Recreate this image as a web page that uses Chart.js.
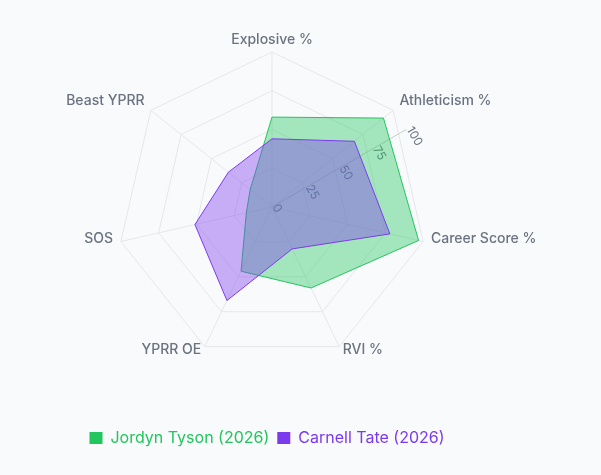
<!DOCTYPE html>
<html>
<head>
<meta charset="utf-8">
<script src="https://cdn.jsdelivr.net/npm/chart.js@4.4.1/dist/chart.umd.min.js"></script>
<style>
  html, body { margin: 0; padding: 0; background: #f9fafb; }
  #wrap { position: absolute; left: 0; top: 0; width: 601px; height: 475px; }
</style>
</head>
<body>
<div id="wrap"><canvas id="radar"></canvas></div>
<script>
var labels = ['Explosive %', 'Athleticism %', 'Career Score %', 'RVI %', 'YPRR OE', 'SOS', 'Beast YPRR'];
var tysonValues = [58, 92, 97, 58, 46, 17, 18];
var tateValues = [44, 68, 78, 30, 67, 51, 36];
var tickValues = [0, 25, 50, 75, 100];

var green = '#22c55e';
var purple = '#7c3aed';

Chart.defaults.font.family = 'Inter';

// radius axis drawn at 30 deg above horizontal, under the areas
var radiusAxis = {
    id: 'radiusAxis',
    beforeDatasetsDraw: function(chart) {
        var r = chart.scales.r;
        var ctx = chart.ctx;
        var tilt = Math.PI / 3;
        var end = r.getPointPosition(0, r.getDistanceFromCenterForValue(100), tilt);
        ctx.save();
        ctx.strokeStyle = '#cccccc';
        ctx.lineWidth = 1;
        ctx.beginPath();
        ctx.moveTo(r.xCenter, r.yCenter);
        ctx.lineTo(end.x, end.y);
        ctx.stroke();
        ctx.font = '12px Inter';
        ctx.fillStyle = '#6b7280';
        ctx.textAlign = 'left';
        ctx.textBaseline = 'alphabetic';
        tickValues.forEach(function(v) {
            var p = r.getPointPosition(0, r.getDistanceFromCenterForValue(v), tilt);
            ctx.save();
            ctx.translate(p.x, p.y);
            ctx.rotate(tilt);
            ctx.fillText(String(v), 0, 0);
            ctx.restore();
        });
        ctx.restore();
    },
    afterDatasetsDraw: function(chart) {
        var r = chart.scales.r;
        var ctx = chart.ctx;
        ctx.save();
        ctx.font = '500 14px Inter';
        ctx.fillStyle = '#6b7280';
        ctx.textBaseline = 'alphabetic';
        chart.data.labels.forEach(function(label, i) {
            var p = r.getPointPosition(i, r.drawingArea + 8);
            var dx = p.x - r.xCenter;
            ctx.textAlign = Math.abs(dx) < 1 ? 'center' : (dx > 0 ? 'left' : 'right');
            ctx.fillText(label, p.x, p.y);
        });
        ctx.restore();
    }
};

var chart = new Chart(document.getElementById('radar'), {
    type: 'radar',
    data: {
        labels: labels,
        datasets: [{
            label: 'Jordyn Tyson (2026)',
            data: tysonValues,
            borderColor: green,
            backgroundColor: 'rgba(34, 197, 94, 0.4)',
            borderWidth: 1,
            pointRadius: 0,
            fill: true,
            order: 1
        }, {
            label: 'Carnell Tate (2026)',
            data: tateValues,
            borderColor: purple,
            backgroundColor: 'rgba(124, 58, 237, 0.4)',
            borderWidth: 1,
            pointRadius: 0,
            fill: true,
            order: 0
        }]
    },
    options: {
        responsive: true,
        maintainAspectRatio: false,
        animation: false,
        layout: {
            padding: { top: 52, bottom: 19, left: 0, right: 67 }
        },
        scales: {
            r: {
                min: 0,
                max: 100,
                ticks: { display: false, stepSize: 25 },
                pointLabels: { display: false },
                grid: { color: '#e5e7eb' },
                angleLines: { color: '#e5e7eb' }
            }
        },
        plugins: {
            tooltip: { enabled: false },
            // empty left title only nudges the radar right of the legend centre
            title: {
                display: true,
                position: 'left',
                text: '',
                padding: 0,
                font: { size: 10, lineHeight: 1 }
            },
            legend: {
                position: 'bottom',
                title: { display: true, text: '', padding: { top: 44, bottom: 0 } },
                labels: {
                    boxWidth: 13,
                    boxHeight: 12,
                    padding: 8,
                    font: { size: 16 },
                    generateLabels: function(chart) {
                        return chart.data.datasets.map(function(ds, i) {
                            return {
                                text: ds.label,
                                fillStyle: ds.borderColor,
                                strokeStyle: ds.borderColor,
                                fontColor: ds.borderColor,
                                lineWidth: 0,
                                hidden: !chart.isDatasetVisible(i),
                                datasetIndex: i
                            };
                        });
                    }
                }
            }
        }
    },
    plugins: [radiusAxis]
});
</script>
</body>
</html>
